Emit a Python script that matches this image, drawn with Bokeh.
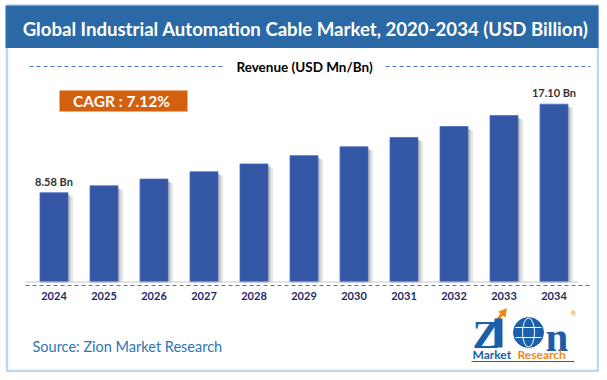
from bokeh.plotting import figure
from bokeh.models import Range1d, ColumnDataSource, BoxAnnotation, Label
from bokeh.transform import dodge
from bokeh.core.properties import value
from bokeh.embed import file_html
from bokeh.resources import INLINE

# ---- data ----
years = ["2024", "2025", "2026", "2027", "2028", "2029", "2030", "2031", "2032", "2033", "2034"]
revenue = [8.58, 9.25, 9.90, 10.60, 11.35, 12.15, 13.00, 13.90, 14.95, 16.00, 17.10]
title_text = "Global Industrial Automation Cable Market, 2020-2034 (USD Billion)"
cagr_text = "CAGR : 7.12%"
axis_title = "Revenue (USD Mn/Bn)"
source_text = "Source: Zion Market Research"

# ---- layout ----
W, H = 599, 372
OFF = 0  # canvas origin in picture pixels
PXX = 50.0   # px per category
PYU = 10.4   # px per USD bn
FIRST_CX = 53.5
BASE_Y = 281.5
XS = -(FIRST_CX - OFF) / PXX
XE = XS + W / PXX
YS = -((OFF + H) - BASE_Y) / PYU
YE = YS + H / PYU

def dx(ix):
    return XS + (ix - OFF) / PXX

def dy(iy):
    return YS + ((OFF + H) - iy) / PYU

FONT = value("Lato")

p = figure(width=W, height=H, x_range=Range1d(XS, XE), y_range=Range1d(YS, YE),
           output_backend="svg", toolbar_location=None, min_border=0,
           x_axis_location=None, y_axis_location=None)
p.grid.visible = False
p.outline_line_color = None
p.background_fill_color = "white"
p.border_fill_color = "white"

# title bar and outer frame
p.add_layout(BoxAnnotation(left=dx(5), right=dx(598), top=dy(5), bottom=dy(47.5),
                           fill_color="#2A69A6", fill_alpha=1, line_color=None))
p.add_layout(BoxAnnotation(left=dx(6.5), right=dx(597.5), top=dy(5), bottom=dy(370.5),
                           fill_alpha=0, line_color="#2F77C0", line_width=2.5))
p.add_layout(Label(x=dx(305), y=dy(28), text=title_text, text_align="center",
                   text_baseline="middle", text_color="white", text_font_size="18.6px",
                   text_font_style="bold", text_font="Lato"))

# revenue header with dashed lines
p.segment(x0=[dx(29), dx(385)], y0=[dy(66), dy(66)], x1=[dx(222), dx(590)], y1=[dy(66), dy(66)],
          line_color="#4472C4", line_width=1, line_dash="4 3")
p.add_layout(Label(x=dx(304), y=dy(66), text=axis_title, text_align="center",
                   text_baseline="middle", text_color="black", text_font_size="13.5px",
                   text_font_style="bold", text_font="Lato"))

# CAGR box
p.add_layout(BoxAnnotation(left=dx(59), right=dx(187), top=dy(90), bottom=dy(111),
                           fill_color="#D2600E", fill_alpha=1, line_color=None))
p.add_layout(Label(x=dx(121), y=dy(100.5), text=cagr_text, text_align="center",
                   text_baseline="middle", text_color="white", text_font_size="15.5px",
                   text_font_style="bold", text_font="Lato"))

src = ColumnDataSource(dict(x=list(range(len(years))), value=revenue, year=years))

# bar shadows
p.vbar(x=dodge("x", 0.10, range=p.x_range), top=dodge("value", -0.35, range=p.y_range), bottom=0,
       width=0.56, source=src, fill_color="#9a9a9a", fill_alpha=0.25, line_color=None)
p.vbar(x=dodge("x", 0.05, range=p.x_range), top=dodge("value", -0.25, range=p.y_range), bottom=0,
       width=0.56, source=src, fill_color="#777777", fill_alpha=0.35, line_color=None)
# bars
p.vbar(x="x", top="value", bottom=0, width=0.56, source=src,
       fill_color="#3356A5", line_color="#4B6FBF", line_width=0.8)

# axis lines
p.segment(x0=[dx(25)], y0=[0], x1=[dx(578)], y1=[0], line_color="#c8c8c8", line_width=1.2)
p.segment(x0=[dx(25)], y0=[dy(285)], x1=[dx(592)], y1=[dy(285)],
          line_color="#4472C4", line_width=1, line_dash="4 3")

# year labels
p.text(x="x", y=0, text="year", source=src, y_offset=14, text_align="center",
       text_baseline="middle", text_color="#1F2B66", text_font_size="11px",
       text_font_style="bold", text_font=FONT)

# value labels (first & last)
ends = ColumnDataSource(dict(x=[0, len(years) - 1], value=[revenue[0], revenue[-1]],
                             lab=["%.2f Bn" % revenue[0], "%.2f Bn" % revenue[-1]]))
p.text(x="x", y="value", text="lab", source=ends, y_offset=-5, text_align="center",
       text_baseline="bottom", text_color="#333333", text_font_size="11px",
       text_font_style="bold", text_font=FONT)

# source
p.add_layout(Label(x=dx(32), y=dy(346), text=source_text, text_align="left",
                   text_baseline="middle", text_color="#2E75B6", text_font_size="14.5px",
                   text_font="Lato"))

# logo
BLUE = "#1B5FAA"
ORANGE = "#EE8A12"
NARROW = "Liberation Sans Narrow"
p.add_layout(Label(x=dx(472), y=dy(333), text="Z", text_align="left", text_baseline="middle",
                   text_color=BLUE, text_font_size="41px", text_font_style="bold", text_font=NARROW))
p.add_layout(BoxAnnotation(left=dx(494), right=dx(502), top=dy(318), bottom=dy(347),
                           fill_color=BLUE, fill_alpha=1, line_color=None))
p.segment(x0=[dx(476)], y0=[dy(346)], x1=[dx(502)], y1=[dy(313)], line_color=ORANGE, line_width=3)
p.scatter(x=[dx(503)], y=[dy(312)], size=8, marker="triangle", angle=-0.67,
          fill_color=ORANGE, line_color=ORANGE)
p.scatter(x=[dx(528)], y=[dy(332)], size=30, marker="circle", fill_color=BLUE, line_color=BLUE)
p.ellipse(x=[dx(528)], y=[dy(332)], width=[12], height=[29], width_units="screen",
          height_units="screen", fill_alpha=0, line_color="white", line_width=1)
p.segment(x0=[dx(515), dx(515)], y0=[dy(327), dy(337)], x1=[dx(541), dx(541)], y1=[dy(327), dy(337)],
          line_color="white", line_width=1)
p.add_layout(Label(x=dx(545), y=dy(336), text="n", text_align="left", text_baseline="middle",
                   text_color=BLUE, text_font_size="41px", text_font_style="bold", text_font=NARROW))
p.add_layout(Label(x=dx(573), y=dy(312), text="®", text_align="center", text_baseline="middle",
                   text_color=ORANGE, text_font_size="7px", text_font="Lato"))
p.add_layout(Label(x=dx(472), y=dy(354), text="Market", text_align="left", text_baseline="middle",
                   text_color=BLUE, text_font_size="12px", text_font_style="bold", text_font="Lato"))
p.add_layout(Label(x=dx(517), y=dy(354), text="Research", text_align="left", text_baseline="middle",
                   text_color=ORANGE, text_font_size="12px", text_font_style="bold", text_font="Lato"))
p.segment(x0=[dx(471)], y0=[dy(361)], x1=[dx(574)], y1=[dy(361)], line_color=BLUE, line_width=1)

open("out.html", "w").write(file_html(p, INLINE))
